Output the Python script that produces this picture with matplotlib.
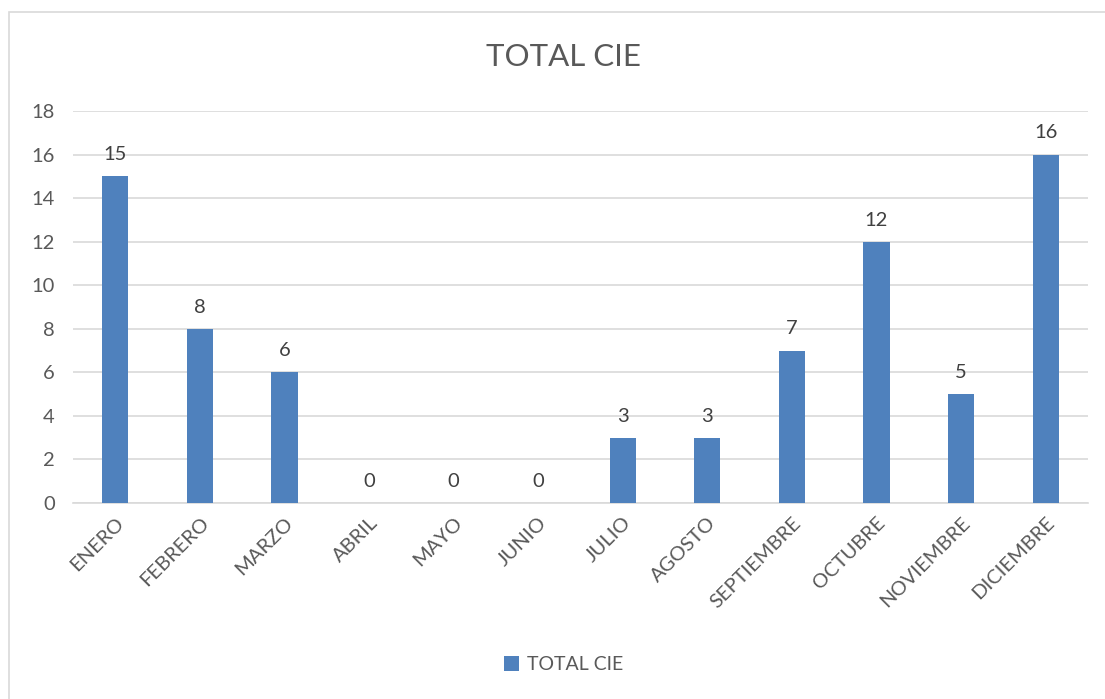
import matplotlib.pyplot as plt
from matplotlib.patches import Rectangle

# data
meses = ["ENERO", "FEBRERO", "MARZO", "ABRIL", "MAYO", "JUNIO",
         "JULIO", "AGOSTO", "SEPTIEMBRE", "OCTUBRE", "NOVIEMBRE", "DICIEMBRE"]
total_cie = [15, 8, 6, 0, 0, 0, 3, 3, 7, 12, 5, 16]
y_ticks = [0, 2, 4, 6, 8, 10, 12, 14, 16, 18]

plt.rcParams['font.family'] = ['Lato', 'DejaVu Sans']

fig = plt.figure(figsize=(11.05, 6.99), dpi=100)
ax = fig.add_axes([0.066, 0.2804, 0.9186, 0.5608])

# outer chart border
fig.patches.append(Rectangle((0.008, -0.01), 1.0, 0.993, transform=fig.transFigure,
                             fill=False, edgecolor="#D9D9D9", linewidth=1.2))

x = list(range(len(meses)))
bars = ax.bar(x, total_cie, width=0.31, color="#4F81BD", label="TOTAL CIE", zorder=3)

for xi, v in zip(x, total_cie):
    ax.text(xi, v + 0.6, str(v), ha="center", va="bottom", fontsize=14.5, color="#404040")

ax.set_xlim(-0.5, len(meses) - 0.5)
ax.set_ylim(0, 18)
ax.set_yticks(y_ticks)
ax.yaxis.grid(True, color="#D9D9D9", linewidth=1.2, zorder=0)
ax.set_axisbelow(True)

for side in ["top", "right", "left"]:
    ax.spines[side].set_visible(False)
ax.spines["bottom"].set_color("#D9D9D9")
ax.spines["bottom"].set_linewidth(1.2)

ax.tick_params(axis="y", length=0, labelsize=14.5, labelcolor="#595959", pad=13)
ax.tick_params(axis="x", length=0, labelsize=14.5, labelcolor="#595959", pad=8)
ax.set_xticks(x)
ax.set_xticklabels(meses, rotation=45, ha="right", rotation_mode="anchor")

fig.text(0.51, 0.918, "TOTAL CIE", ha="center", va="center", fontsize=22.5, color="#595959")

fig.legend(handles=[bars], labels=["TOTAL CIE"], loc="center", bbox_to_anchor=(0.51, 0.049),
           frameon=False, fontsize=14, labelcolor="#595959", handlelength=0.8,
           handleheight=0.8, handletextpad=0.4)

fig.savefig("out.png", dpi=100)
